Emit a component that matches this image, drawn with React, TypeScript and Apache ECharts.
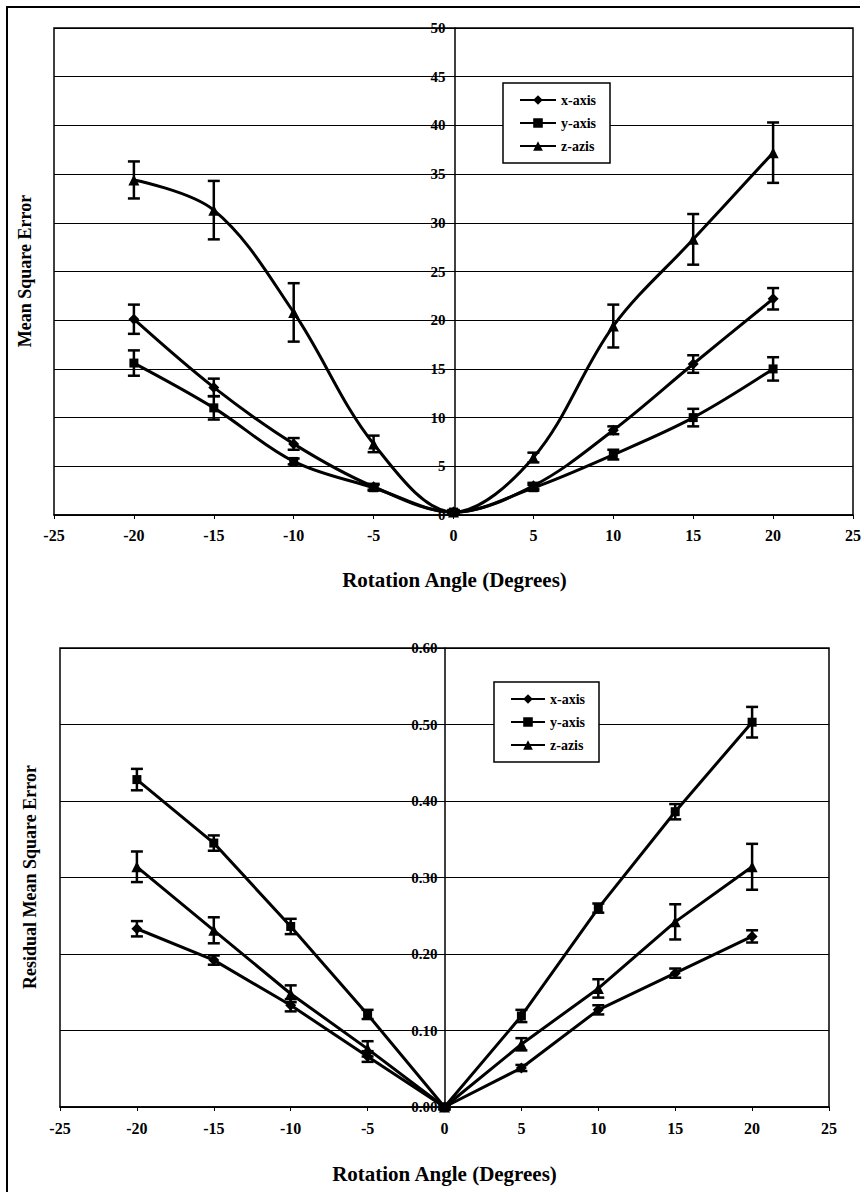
import React, { useEffect, useRef } from "react";
import * as echarts from "echarts";

const angles = [-20, -15, -10, -5, 0, 5, 10, 15, 20];
const seriesNames = ["x-axis", "y-axis", "z-azis"];
const symbols = ["diamond", "rect", "triangle"];
const symbolSizes = [11, 9, 11];

// Top chart: Mean Square Error
const mseX = [20.1, 13.1, 7.3, 2.9, 0.3, 3.0, 8.7, 15.5, 22.2];
const mseXErr = [1.5, 0.9, 0.6, 0.3, 0.2, 0.3, 0.4, 0.9, 1.1];
const mseY = [15.6, 11.0, 5.5, 2.8, 0.3, 2.8, 6.2, 10.0, 15.0];
const mseYErr = [1.3, 1.2, 0.3, 0.3, 0.2, 0.3, 0.5, 0.9, 1.2];
const mseZ = [34.4, 31.3, 20.8, 7.3, 0.3, 5.9, 19.4, 28.3, 37.2];
const mseZErr = [1.9, 3.0, 3.0, 0.85, 0.2, 0.5, 2.2, 2.6, 3.1];

// Bottom chart: Residual Mean Square Error
const resX = [0.233, 0.192, 0.133, 0.066, 0.0, 0.051, 0.127, 0.175, 0.223];
const resXErr = [0.01, 0.006, 0.008, 0.007, 0.003, 0.004, 0.006, 0.006, 0.008];
const resY = [0.428, 0.345, 0.236, 0.121, 0.0, 0.119, 0.26, 0.386, 0.503];
const resYErr = [0.014, 0.01, 0.01, 0.006, 0.003, 0.008, 0.006, 0.01, 0.02];
const resZ = [0.314, 0.231, 0.148, 0.076, 0.0, 0.082, 0.155, 0.242, 0.314];
const resZErr = [0.02, 0.017, 0.011, 0.01, 0.003, 0.008, 0.012, 0.023, 0.03];

const FONT = "'Liberation Serif', 'Times New Roman', 'DejaVu Serif', serif";

const errRender = (params: any, api: any) => {
  const x = api.value(0);
  const lo = api.value(1);
  const hi = api.value(2);
  const pLo = api.coord([x, lo]);
  const pHi = api.coord([x, hi]);
  const w = 6;
  const st = { stroke: "#000", lineWidth: 2.5 };
  return {
    type: "group",
    children: [
      { type: "line", shape: { x1: pLo[0], y1: pLo[1], x2: pHi[0], y2: pHi[1] }, style: st },
      { type: "line", shape: { x1: pLo[0] - w, y1: pLo[1], x2: pLo[0] + w, y2: pLo[1] }, style: st },
      { type: "line", shape: { x1: pHi[0] - w, y1: pHi[1], x2: pHi[0] + w, y2: pHi[1] }, style: st },
    ],
  };
};

export default function App() {
  const ref = useRef<HTMLDivElement>(null);
  useEffect(() => {
    if (!ref.current) return;
    const chart = echarts.init(ref.current, undefined, { renderer: "svg" });

    const topVals = [mseX, mseY, mseZ];
    const topErrs = [mseXErr, mseYErr, mseZErr];
    const botVals = [resX, resY, resZ];
    const botErrs = [resXErr, resYErr, resZErr];

    const series: any[] = [];
    [0, 1].forEach((g) => {
      const vals = g === 0 ? topVals : botVals;
      const errs = g === 0 ? topErrs : botErrs;
      vals.forEach((v, i) => {
        series.push({
          type: "custom",
          xAxisIndex: g,
          yAxisIndex: g,
          renderItem: errRender,
          encode: { x: 0, y: [1, 2] },
          data: angles.map((a, k) => [a, v[k] - errs[i][k], v[k] + errs[i][k]]),
          z: 3,
          silent: true,
        });
        series.push({
          name: seriesNames[i],
          type: "line",
          xAxisIndex: g,
          yAxisIndex: g,
          smooth: g === 0 ? 0.35 : false,
          symbol: symbols[i],
          symbolSize: symbolSizes[i],
          showSymbol: true,
          lineStyle: { color: "#000", width: 3 },
          itemStyle: { color: "#000" },
          data: angles.map((a, k) => [a, v[k]]),
          z: 4,
        });
      });
    });

    const xAxisBase = (labelMargin: number) => ({
      type: "value",
      min: -25,
      max: 25,
      interval: 5,
      position: "bottom",
      axisLine: { onZero: false, lineStyle: { color: "#000", width: 1.5 } },
      axisTick: { show: true, length: 4, lineStyle: { color: "#000" } },
      axisLabel: { margin: labelMargin, fontFamily: FONT, fontWeight: "bold", fontSize: 16, color: "#000" },
      splitLine: { show: false },
    });

    const yAxisBase = (gridIndex: number, max: number, interval: number, offset: number, margin: number, formatter: any) => ({
      type: "value",
      gridIndex,
      min: 0,
      max,
      interval,
      position: "left",
      offset,
      axisLine: { show: true, onZero: false, lineStyle: { color: "#000", width: 1.5 } },
      axisTick: { show: true, length: 5, lineStyle: { color: "#000" } },
      axisLabel: { margin, fontFamily: FONT, fontWeight: "bold", fontSize: 15, color: "#000", formatter },
      splitLine: { show: true, lineStyle: { color: "#000", width: 1 } },
    });

    const legendBase = {
      orient: "vertical",
      data: seriesNames,
      backgroundColor: "#fff",
      borderColor: "#000",
      borderWidth: 1.5,
      itemWidth: 36,
      itemHeight: 12,
      itemGap: 9,
      padding: [10, 14, 10, 16],
      textStyle: { fontFamily: FONT, fontWeight: "bold", fontSize: 14, color: "#000" },
    };

    const topLeft = 54, topRight = 855;
    const botLeft = 60, botRight = 829;

    const titleText = (text: string, x: number, y: number, rot: boolean, size: number) => ({
      type: "text",
      x,
      y,
      rotation: rot ? Math.PI / 2 : 0,
      style: {
        text,
        fontFamily: FONT,
        fontWeight: "bold",
        fontSize: size,
        fill: "#000",
        align: "center",
        verticalAlign: "middle",
      },
    });

    chart.setOption({
      animation: false,
      backgroundColor: "#fff",
      grid: [
        { left: topLeft, right: 864 - topRight, top: 28, height: 487, show: true, borderColor: "#000", borderWidth: 1.5, backgroundColor: "transparent" },
        { left: botLeft, right: 864 - botRight, top: 648, height: 459, show: true, borderColor: "#000", borderWidth: 1.5, backgroundColor: "transparent" },
      ],
      xAxis: [
        { ...xAxisBase(12), gridIndex: 0 },
        { ...xAxisBase(13), gridIndex: 1 },
      ],
      yAxis: [
        yAxisBase(0, 50, 5, -(topRight - topLeft) / 2, 9, (v: number) => String(v)),
        yAxisBase(1, 0.6, 0.1, -(botRight - botLeft) / 2, 7, (v: number) => v.toFixed(2)),
      ],
      legend: [
        { ...legendBase, left: 503, top: 83 },
        { ...legendBase, left: 494, top: 682, itemWidth: 34 },
      ],
      graphic: [
        {
          type: "polyline",
          shape: { points: [[7, 1192], [7, 7], [860, 7]] },
          style: { stroke: "#000", lineWidth: 2, fill: "none" },
          silent: true,
        },
        titleText("Mean Square Error", 25, 271, true, 18),
        titleText("Residual Mean Square Error", 30, 877, true, 18),
        titleText("Rotation Angle (Degrees)", (topLeft + topRight) / 2, 580, false, 21),
        titleText("Rotation Angle (Degrees)", (botLeft + botRight) / 2, 1174, false, 21),
      ],
      series,
    });
    return () => chart.dispose();
  }, []);

  return (
    <div
      ref={ref}
      style={{ position: "fixed", left: 0, top: 0, width: 864, height: 1192, background: "#fff" }}
    />
  );
}
